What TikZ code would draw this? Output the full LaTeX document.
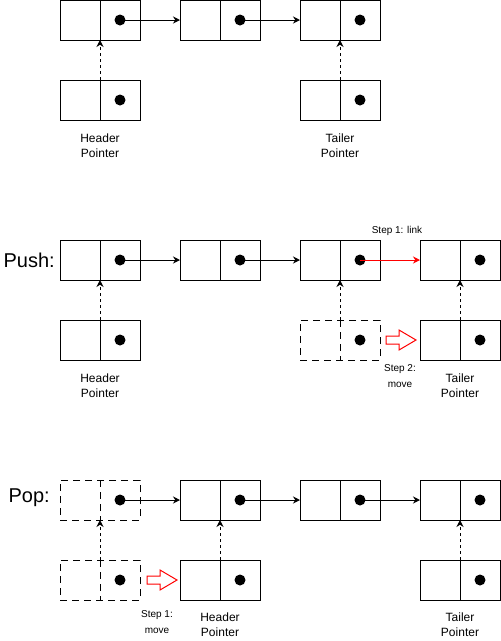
\documentclass[tikz,border=0pt]{standalone}
\usepackage{fontspec}
\setmainfont{Liberation Sans}
\usetikzlibrary{arrows.meta}
\tikzset{
  cellbox/.style={draw=black, line width=1pt, fill=white, minimum width=80pt, minimum height=40pt, inner sep=0pt, outer sep=0pt},
  dashbox/.style={dash pattern=on 7pt off 5pt},
  divline/.style={line width=1pt},
  dotnode/.style={circle, fill=black, minimum size=11pt, inner sep=0pt, outer sep=0pt},
  arr/.style={line width=1pt, -{Stealth[length=7pt,width=7pt]}},
  ptrarr/.style={line width=1pt, dash pattern=on 3pt off 3pt, -{Stealth[length=7pt,width=7pt]}},
  redarr/.style={line width=1pt, red, -{Stealth[length=7pt,width=7pt]}},
  lbl/.style={font=\fontsize{12}{15}\selectfont, align=center, inner sep=0pt},
  steplbl/.style={font=\fontsize{10}{15.5}\selectfont, align=center, inner sep=0pt},
  biglbl/.style={font=\fontsize{20}{24}\selectfont, inner sep=0pt},
  hollow/.style={draw=red, line width=1pt, fill=white, line join=miter}
}
\newcommand\llcell[4][]{%
  \node[cellbox,#1] (#2) at (#3+40,#4+20) {};
  \draw[divline,#1] (#2.north) -- (#2.south);
  \node[dotnode] (#2-p) at (#3+60,#4+20) {};
}
\begin{document}
\begin{tikzpicture}[x=1pt,y=-1pt]
\useasboundingbox (0,0) rectangle (501,641);
% ---------- top ----------
\llcell{a1}{60}{0}
\llcell{a2}{180}{0}
\llcell{a3}{300}{0}
\llcell{ah}{60}{80}
\llcell{at}{300}{80}
\draw[arr] (a1-p.center) -- (a2.west);
\draw[arr] (a2-p.center) -- (a3.west);
\draw[ptrarr] (ah.north) -- (a1.south);
\draw[ptrarr] (at.north) -- (a3.south);
\node[lbl] (ahl) at (100,146) {Header\\Pointer};
\node[lbl] (atl) at (340,146) {Tailer\\Pointer};
% ---------- push ----------
\node[biglbl, anchor=east] (push) at (55,260) {Push:};
\llcell{b1}{60}{240}
\llcell{b2}{180}{240}
\llcell{b3}{300}{240}
\llcell{b4}{420}{240}
\llcell{bh}{60}{320}
\llcell[dashbox]{bo}{300}{320}
\llcell{bt}{420}{320}
\draw[arr] (b1-p.center) -- (b2.west);
\draw[arr] (b2-p.center) -- (b3.west);
\draw[redarr] (b3-p.center) -- (b4.west);
\draw[ptrarr] (bh.north) -- (b1.south);
\draw[ptrarr] (bo.north) -- (b3.south);
\draw[ptrarr] (bt.north) -- (b4.south);
\node[steplbl] (bs1) at (397,231) {Step 1: link};
\node[steplbl] (bs2) at (400,376) {Step 2:\\move};
\draw[hollow] (386,336) -- (399,336) -- (399,330) -- (416,340) -- (399,350) -- (399,344) -- (386,344) -- cycle;
\node[lbl] (bhl) at (100,386) {Header\\Pointer};
\node[lbl] (btl) at (460,386) {Tailer\\Pointer};
% ---------- pop ----------
\node[biglbl, anchor=east] (pop) at (50,498) {Pop:};
\llcell[dashbox]{c1}{60}{480}
\llcell{c2}{180}{480}
\llcell{c3}{300}{480}
\llcell{c4}{420}{480}
\llcell[dashbox]{co}{60}{560}
\llcell{ch}{180}{560}
\llcell{ct}{420}{560}
\draw[arr] (c1-p.center) -- (c2.west);
\draw[arr] (c2-p.center) -- (c3.west);
\draw[arr] (c3-p.center) -- (c4.west);
\draw[ptrarr] (co.north) -- (c1.south);
\draw[ptrarr] (ch.north) -- (c2.south);
\draw[ptrarr] (ct.north) -- (c4.south);
\draw[hollow] (147,576) -- (160,576) -- (160,570) -- (177,580) -- (160,590) -- (160,584) -- (147,584) -- cycle;
\node[steplbl] (cs1) at (157,622) {Step 1:\\move};
\node[lbl] (chl) at (220,625) {Header\\Pointer};
\node[lbl] (ctl) at (460,625) {Tailer\\Pointer};
\end{tikzpicture}
\end{document}
